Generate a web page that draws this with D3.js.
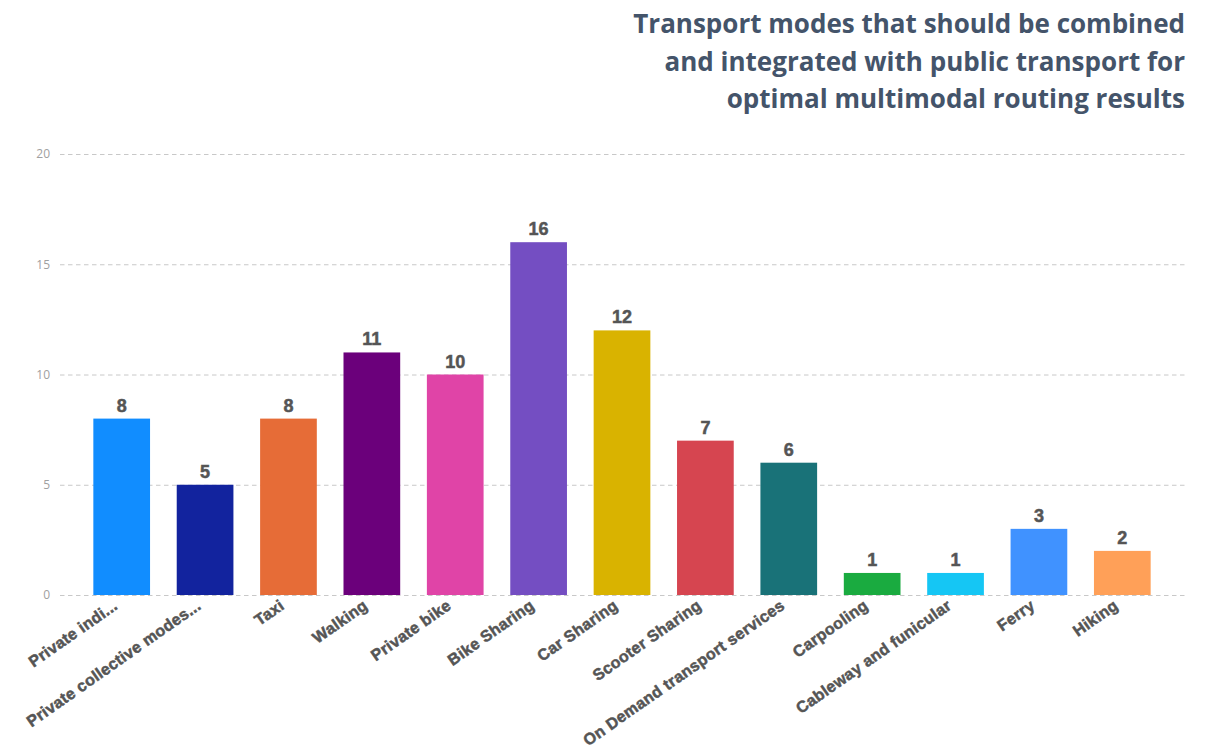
<!doctype html>
<html lang="en">
<head>
    <meta charset="UTF-8">
    <title>Transport modes</title>
    <script src="https://d3js.org/d3.v7.min.js"></script>
    <style>
      body { margin: 0; background: #fff; }
    </style>
</head>
<body>
    <div id="chart"></div>

    <script>

      // Data
      const categories = [
        'Private indi...', 'Private collective modes...', 'Taxi', 'Walking', 'Private bike',
        'Bike Sharing', 'Car Sharing', 'Scooter Sharing', 'On Demand transport services',
        'Carpooling', 'Cableway and funicular', 'Ferry', 'Hiking'
      ];
      const values = [8, 5, 8, 11, 10, 16, 12, 7, 6, 1, 1, 3, 2];
      const colors = [
        '#118DFF', '#12239E', '#E66C37', '#6B007B', '#E044A7',
        '#744EC2', '#D9B300', '#D64550', '#197278',
        '#1AAB40', '#15C6F4', '#4092FF', '#FFA058'
      ];
      const yTicks = [0, 5, 10, 15, 20];
      const titleLines = [
        'Transport modes that should be combined',
        'and integrated with public transport for',
        'optimal multimodal routing results'
      ];

      const data = categories.map((c, i) => ({ name: c, value: values[i], color: colors[i] }));

      const W = 1216, H = 752;

      const svg = d3.select('#chart')
          .append('svg')
          .attr('width', W)
          .attr('height', H);

      // Scales
      const x = d3.scaleBand()
          .domain(categories)
          .range([80, 1164])
          .paddingInner(0.32)
          .paddingOuter(0.16);

      const y = d3.scaleLinear()
          .domain([0, 20])
          .range([595, 154]);

      // Title
      const title = svg.append('g')
          .attr('font-family', '"Open Sans", Lato, sans-serif')
          .attr('font-weight', 'bold')
          .attr('fill', '#44546A')
          .attr('text-anchor', 'end');

      const titleText = title.selectAll('text')
          .data(titleLines)
          .join('text')
          .attr('x', 1185)
          .attr('y', (d, i) => 33 + i * 37.5)
          .attr('font-size', 27)
          .text(d => d);

      // fit first line to the reference width
      const w0 = titleText.node().getComputedTextLength();
      titleText.attr('font-size', 27 * 552 / w0);

      // Grid lines and y labels
      const yAxis = svg.append('g')
          .attr('transform', 'translate(60,0)')
          .call(d3.axisLeft(y).tickValues(yTicks).tickSize(-1126).tickPadding(10));

      yAxis.select('.domain').remove();
      yAxis.selectAll('.tick line')
          .attr('stroke', '#c8c8c8')
          .attr('stroke-dasharray', '4.5,3.5');
      yAxis.selectAll('.tick text')
          .attr('fill', '#a0a0a0')
          .attr('font-size', 12)
          .attr('font-family', '"Open Sans", "Noto Sans", sans-serif');

      // Bars
      svg.append('g')
          .selectAll('rect')
          .data(data)
          .join('rect')
          .attr('x', d => x(d.name))
          .attr('y', d => y(d.value))
          .attr('width', x.bandwidth())
          .attr('height', d => y(0) - y(d.value))
          .attr('fill', d => d.color);

      // Value labels
      svg.append('g')
          .selectAll('text')
          .data(data)
          .join('text')
          .attr('x', d => x(d.name) + x.bandwidth() / 2)
          .attr('y', d => y(d.value) - 7)
          .attr('text-anchor', 'middle')
          .attr('font-family', '"Liberation Sans", Arial, sans-serif')
          .attr('font-weight', 'bold')
          .attr('font-size', 18)
          .attr('fill', '#555')
          .attr('stroke', '#555')
          .attr('stroke-width', 0.5)
          .text(d => d.value);

      // Category labels (rotated)
      svg.append('g')
          .selectAll('text')
          .data(data)
          .join('text')
          .attr('transform', d => `translate(${x(d.name) + x.bandwidth() / 2 - 3},${y(0) + 13}) rotate(-35)`)
          .attr('text-anchor', 'end')
          .attr('font-family', '"Liberation Sans", Arial, sans-serif')
          .attr('font-weight', 'bold')
          .attr('font-size', 16)
          .attr('letter-spacing', 0.3)
          .attr('fill', '#555')
          .attr('stroke', '#555')
          .attr('stroke-width', 0.5)
          .text(d => d.name);

    </script>

</body>
</html>
